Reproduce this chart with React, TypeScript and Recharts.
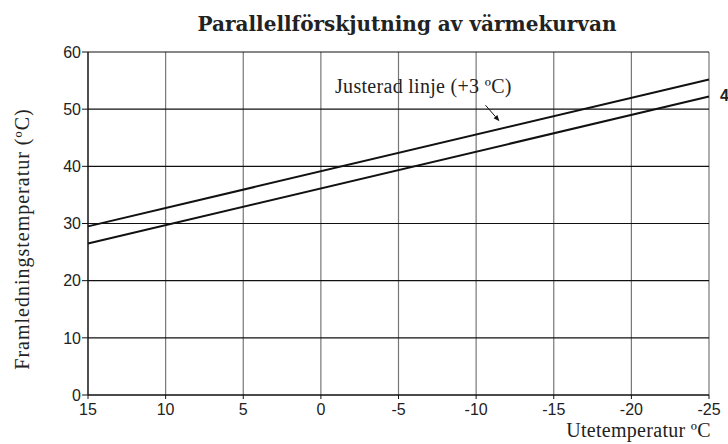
import {
  CartesianGrid,
  Line,
  LineChart,
  ReferenceLine,
  XAxis,
  YAxis,
} from "recharts";

// utetemperatur (x) och framledningstemperatur (y)
const outdoorTemps = [15, -25];
const baseCurve = [26.5, 52.2];
const adjustedCurve = [29.5, 55.2];
const xTicks = [15, 10, 5, 0, -5, -10, -15, -20, -25];
const yTicks = [0, 10, 20, 30, 40, 50, 60];
const arrowFrom = { x: -10.6, y: 50.7 };
const arrowTo = { x: -11.5, y: 47.9 };

const rows = outdoorTemps.map((t, i) => ({
  ute: t,
  base: baseCurve[i],
  adjusted: adjustedCurve[i],
}));

const serif = "'Liberation Serif', 'Times New Roman', serif";
const sans = "'Liberation Sans', Arial, sans-serif";

function Arrow(props: { x1?: number; y1?: number; x2?: number; y2?: number }) {
  const { x1 = 0, y1 = 0, x2 = 0, y2 = 0 } = props;
  const a = Math.atan2(y2 - y1, x2 - x1);
  const len = 6;
  const w = 2.5;
  const bx = x2 - len * Math.cos(a);
  const by = y2 - len * Math.sin(a);
  const px = -Math.sin(a) * w;
  const py = Math.cos(a) * w;
  return (
    <g>
      <line x1={x1} y1={y1} x2={bx} y2={by} stroke="#111" strokeWidth={1} />
      <polygon
        points={`${x2},${y2} ${bx + px},${by + py} ${bx - px},${by - py}`}
        fill="#111"
      />
    </g>
  );
}

export default function App() {
  return (
    <div
      style={{
        position: "absolute",
        left: 0,
        top: 0,
        width: 728,
        height: 444,
        background: "#fff",
      }}
    >
      <LineChart
        width={728}
        height={444}
        data={rows}
        margin={{ top: 52, right: 19, left: 0, bottom: 0 }}
      >
        <CartesianGrid horizontal={false} stroke="#777" strokeWidth={1.2} />
        <CartesianGrid vertical={false} stroke="#111" strokeWidth={1.2} />
        <XAxis
          dataKey="ute"
          type="number"
          domain={[-25, 15]}
          reversed
          ticks={xTicks}
          height={49}
          tickSize={4}
          tickMargin={5}
          axisLine={{ stroke: "#111", strokeWidth: 1.2 }}
          tickLine={{ stroke: "#111" }}
          tick={{ fill: "#222", fontSize: 16, fontFamily: sans }}
        />
        <YAxis
          type="number"
          domain={[0, 60]}
          ticks={yTicks}
          width={88}
          tickSize={6}
          tickMargin={1}
          axisLine={{ stroke: "#111", strokeWidth: 1.2 }}
          tickLine={{ stroke: "#111" }}
          tick={{ fill: "#222", fontSize: 16, fontFamily: sans }}
        />
        <ReferenceLine
          segment={[arrowFrom, arrowTo]}
          shape={(p: any) => <Arrow {...p} />}
          ifOverflow="visible"
        />
        <Line
          dataKey="adjusted"
          stroke="#111"
          strokeWidth={2}
          dot={false}
          isAnimationActive={false}
        />
        <Line
          dataKey="base"
          stroke="#111"
          strokeWidth={2}
          dot={false}
          isAnimationActive={false}
        />
      </LineChart>
      <div
        style={{
          position: "absolute",
          left: 0,
          width: 814,
          top: 12,
          textAlign: "center",
          fontFamily: "'DejaVu Serif', serif",
          fontWeight: "bold",
          fontSize: 20,
          color: "#222",
          whiteSpace: "nowrap",
        }}
      >
        Parallellförskjutning av värmekurvan
      </div>
      <div
        style={{
          position: "absolute",
          left: 335,
          top: 75,
          fontFamily: serif,
          fontSize: 20,
          letterSpacing: 0.3,
          color: "#222",
          whiteSpace: "nowrap",
        }}
      >
        Justerad linje (+3 ºC)
      </div>
      <div
        style={{
          position: "absolute",
          left: 720,
          top: 87,
          fontFamily: sans,
          fontWeight: "bold",
          fontSize: 16,
          color: "#222",
        }}
      >
        4
      </div>
      <div
        style={{
          position: "absolute",
          right: 17,
          top: 419,
          lineHeight: "22px",
          fontFamily: serif,
          fontSize: 20,
          letterSpacing: 0.3,
          color: "#222",
          whiteSpace: "nowrap",
        }}
      >
        Utetemperatur ºC
      </div>
      <div
        style={{
          position: "absolute",
          left: 22,
          top: 239,
          transform: "translate(-50%, -50%) rotate(-90deg)",
          fontFamily: serif,
          fontSize: 20,
          letterSpacing: 1.0,
          color: "#222",
          whiteSpace: "nowrap",
        }}
      >
        Framledningstemperatur (ºC)
      </div>
    </div>
  );
}
